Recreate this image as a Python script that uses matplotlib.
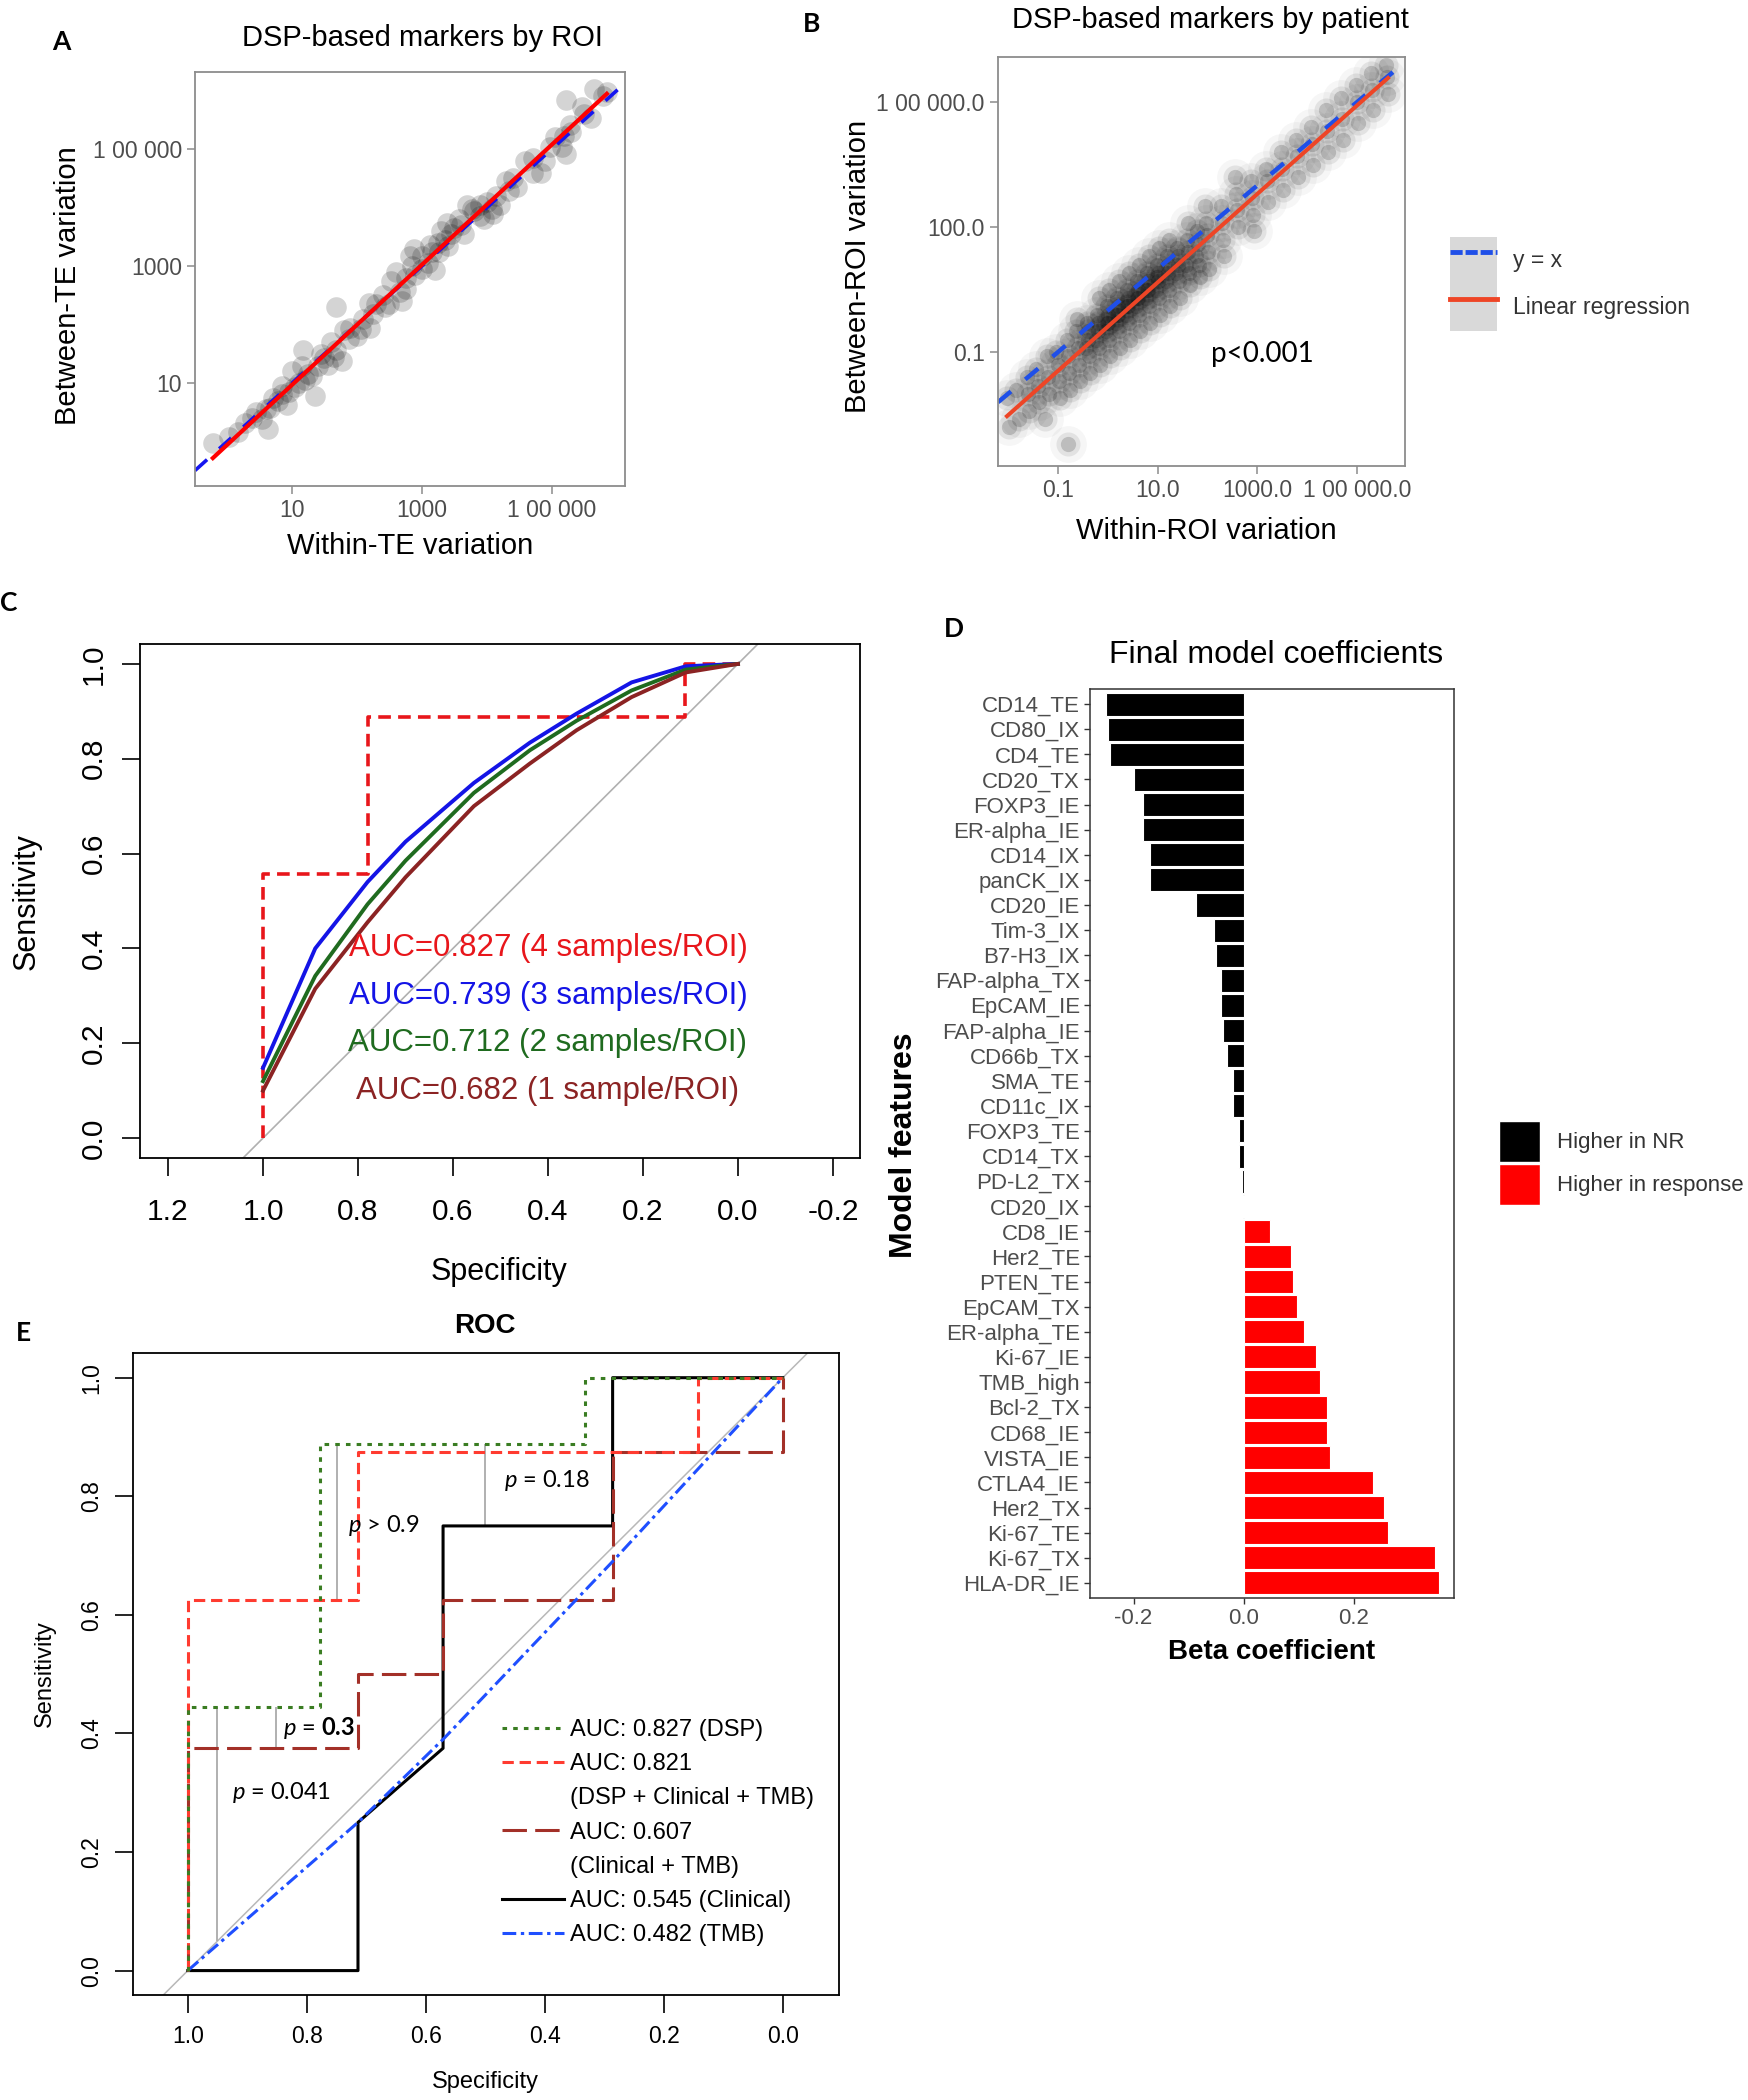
import matplotlib
matplotlib.use("Agg")
import matplotlib.pyplot as plt
from matplotlib.lines import Line2D
from matplotlib.patches import Patch
from matplotlib.legend_handler import HandlerTuple
import numpy as np

plt.rcParams['font.family'] = ['Liberation Sans', 'DejaVu Sans']
plt.rcParams['mathtext.fontset'] = 'custom'
plt.rcParams['mathtext.rm'] = 'Lato'
plt.rcParams['mathtext.it'] = 'Lato:italic'
plt.rcParams['mathtext.bf'] = 'Lato:bold'

# ---------------- A: DSP-based markers by ROI (log10 of the variations)
roi_within_log = [
    -0.22, 0.03, 0.16, 0.28, 0.38, 0.54, 0.63, 0.66, 0.79, 0.85,
    0.92, 1.04, 1.17, 1.20, 1.36, 1.30, 1.49, 1.55, 1.68, 1.68,
    1.77, 1.87, 2.06, 2.18, 2.25, 2.44, 2.53, 2.66, 2.75, 2.82,
    2.88, 3.01, 3.13, 3.26, 3.20, 3.39, 3.45, 3.58, 3.70, 3.77,
    3.89, 3.96, 4.08, 4.21, 4.34, 4.46, 4.59, 4.72, 4.84, 4.72,
    4.97, 5.16, 5.22, 5.19, 5.28, 5.22, 5.47, 5.60, 5.66, 5.79,
    5.85, 0.45, 0.70, 1.10, 1.40, 1.60, 1.90, 2.30, 2.60, 2.90,
    3.10, 3.35, 3.60, 3.90, 4.15, 4.40, 1.00, 2.00, 2.70, 3.30,
    1.25, 1.45, 1.65, 1.80, 2.10, 2.20, 2.40, 2.50, 2.75, 2.85,
    3.00, 3.15, 3.25, 3.40, 3.50, 3.65, 3.80, 4.00, 4.10, 4.30,
    0.60, 0.85, 0.95, 1.15, 5.05, 5.30, 5.50, 4.90]
roi_between_log = [
    -0.02, 0.07, 0.16, 0.32, 0.41, 0.38, 0.22, 0.57, 0.69, 0.81,
    0.63, 0.94, 1.56, 1.06, 0.78, 1.12, 1.43, 1.31, 1.56, 2.30,
    1.37, 1.75, 1.93, 2.37, 2.18, 2.30, 2.74, 2.55, 2.61, 3.17,
    3.30, 3.17, 3.36, 3.24, 2.93, 3.73, 3.55, 3.80, 4.04, 3.98,
    4.04, 3.80, 3.98, 4.04, 4.29, 4.35, 4.79, 4.60, 4.60, 4.85,
    5.04, 5.04, 4.91, 5.22, 5.41, 5.84, 5.72, 5.53, 6.03, 5.91,
    5.97, 0.50, 0.75, 1.00, 1.30, 1.70, 1.95, 2.35, 2.90, 2.85,
    3.05, 3.45, 3.70, 3.85, 4.20, 4.50, 1.20, 1.80, 2.40, 3.60,
    1.15, 1.50, 1.45, 1.90, 2.10, 1.95, 2.50, 2.35, 2.80, 3.00,
    2.95, 3.25, 3.40, 3.35, 3.65, 3.55, 3.95, 4.10, 3.90, 4.45,
    0.55, 0.95, 0.85, 1.30, 5.20, 5.30, 5.60, 4.80]
roi_ticks = [10, 1000, 100000]
roi_ticklabels = ['10', '1000', '1 00 000']

# ---------------- B: DSP-based markers by patient (log10 of the variations)
pat_within_log = [
    -2.02, -1.97, -1.83, -1.78, -1.62, -1.58, -1.60, -1.43, -1.37, -1.40,
    -1.22, -1.18, -1.20, -1.25, -1.03, -0.98, -1.00, -0.96,
    -0.82, -0.78, -0.80, -0.76, -0.80, -0.63, -0.58, -0.60, -0.56, -0.62,
    -0.42, -0.38, -0.40, -0.36, -0.44, -0.40,
    -0.22, -0.18, -0.20, -0.16, -0.24, -0.20, -0.18,
    -0.02, 0.02, 0.00, 0.04, -0.04, 0.00, 0.02, -0.01,
    0.18, 0.22, 0.20, 0.24, 0.16, 0.20, 0.22, 0.19,
    0.38, 0.42, 0.40, 0.44, 0.36, 0.40, 0.42, 0.39,
    0.58, 0.62, 0.60, 0.64, 0.56, 0.60, 0.62, 0.59,
    0.78, 0.82, 0.80, 0.84, 0.76, 0.80, 0.82, 0.79,
    0.98, 1.02, 1.00, 1.04, 0.96, 1.00, 1.02, 0.99,
    1.18, 1.22, 1.20, 1.24, 1.16, 1.20, 1.22,
    1.38, 1.42, 1.40, 1.44, 1.36, 1.40,
    1.58, 1.62, 1.60, 1.64, 1.56, 1.60,
    1.78, 1.82, 1.80, 1.84, 1.76,
    1.98, 2.02, 2.00, 2.04, 1.96,
    2.28, 2.32, 2.30, 2.34,
    2.58, 2.62, 2.60, 2.56,
    2.88, 2.92, 2.90, 2.94,
    3.18, 3.22, 3.20, 3.48, 3.52, 3.50, 3.78, 3.82, 3.80,
    4.08, 4.12, 4.10, 4.38, 4.42, 4.40, 4.68, 4.72, 4.70,
    4.98, 5.02, 5.00, 5.28, 5.32, 5.30, 5.58, 5.62, 5.60]
pat_between_log = [
    -2.1, -2.8, -1.9, -2.6, -1.6, -2.4, -2.0, -1.4, -2.2, -1.8,
    -1.1, -2.0, -1.6, -2.6, -1.0, -1.7, -1.3, -2.1,
    -0.7, -1.5, -1.1, -1.9, -3.2, -0.5, -1.3, -0.9, -1.7, -0.2,
    -0.3, -1.1, -0.7, -1.5, -0.9, -0.5,
    -0.1, -0.9, -0.5, -1.3, -0.7, -0.3, 0.3,
    0.1, -0.7, -0.3, -1.1, -0.5, -0.1, 0.5, -0.3,
    0.3, -0.5, -0.1, -0.9, -0.3, 0.1, 0.7, -0.1,
    0.5, -0.3, 0.1, -0.7, -0.1, 0.3, 0.9, 0.1,
    0.7, -0.1, 0.3, -0.5, 0.1, 0.5, 1.1, 0.3,
    0.9, 0.1, 0.5, -0.3, 0.3, 0.7, 1.3, 0.5,
    1.1, 0.3, 0.7, -0.1, 0.5, 0.9, 1.5, 0.8,
    1.3, 0.5, 0.9, 0.1, 0.7, 1.1, 1.7,
    1.5, 0.7, 1.1, 0.3, 0.9, 1.3,
    1.7, 0.9, 1.4, 0.6, 1.1, 2.1,
    1.9, 1.1, 1.6, 0.8, 1.3,
    2.1, 1.4, 1.8, 1.0, 2.5,
    2.5, 1.7, 2.1, 1.3,
    2.8, 2.0, 2.4, 3.2,
    3.1, 2.3, 2.7, 1.9,
    3.4, 2.6, 3.1, 3.8, 2.9, 3.4, 4.1, 3.2, 3.7,
    4.4, 3.5, 4.0, 4.8, 3.8, 4.3, 5.1, 4.1, 4.6,
    5.4, 4.5, 5.0, 5.7, 4.8, 5.3, 5.9, 5.2, 5.6]
pat_xticks = [0.1, 10, 1000, 100000]
pat_xticklabels = ['0.1', '10.0', '1000.0', '1 00 000.0']
pat_yticks = [0.1, 100, 100000]
pat_yticklabels = ['0.1', '100.0', '1 00 000.0']

# ---------------- C: ROC by number of samples per ROI
roi4_spec = [1.0, 1.0, 0.778, 0.778, 0.111, 0.111, 0.0]
roi4_sens = [0.0, 0.556, 0.556, 0.889, 0.889, 1.0, 1.0]
smooth_spec = [1.0, 0.89, 0.78, 0.70, 0.556, 0.438, 0.34, 0.224, 0.11, 0.0]
roi3_sens = [0.148, 0.40, 0.54, 0.625, 0.749, 0.834, 0.895, 0.961, 0.995, 1.0]
roi2_sens = [0.12, 0.342, 0.493, 0.585, 0.728, 0.818, 0.88, 0.944, 0.988, 1.0]
roi1_sens = [0.10, 0.315, 0.455, 0.55, 0.70, 0.79, 0.86, 0.93, 0.982, 1.0]
roi_auc_labels = ['AUC=0.827 (4 samples/ROI)', 'AUC=0.739 (3 samples/ROI)',
                  'AUC=0.712 (2 samples/ROI)', 'AUC=0.682 (1 sample/ROI)']
c_xticks = [1.2, 1.0, 0.8, 0.6, 0.4, 0.2, 0.0, -0.2]
c_xticklabels = ['1.2', '1.0', '0.8', '0.6', '0.4', '0.2', '0.0', '-0.2']
c_yticks = [0.0, 0.2, 0.4, 0.6, 0.8, 1.0]
c_yticklabels = ['0.0', '0.2', '0.4', '0.6', '0.8', '1.0']

# ---------------- D: final model coefficients
features = ['CD14_TE', 'CD80_IX', 'CD4_TE', 'CD20_TX', 'FOXP3_IE', 'ER-alpha_IE',
            'CD14_IX', 'panCK_IX', 'CD20_IE', 'Tim-3_IX', 'B7-H3_IX', 'FAP-alpha_TX',
            'EpCAM_IE', 'FAP-alpha_IE', 'CD66b_TX', 'SMA_TE', 'CD11c_IX', 'FOXP3_TE',
            'CD14_TX', 'PD-L2_TX', 'CD20_IX', 'CD8_IE', 'Her2_TE', 'PTEN_TE',
            'EpCAM_TX', 'ER-alpha_TE', 'Ki-67_IE', 'TMB_high', 'Bcl-2_TX', 'CD68_IE',
            'VISTA_IE', 'CTLA4_IE', 'Her2_TX', 'Ki-67_TE', 'Ki-67_TX', 'HLA-DR_IE']
beta = [-0.250, -0.247, -0.242, -0.200, -0.182, -0.182,
        -0.171, -0.171, -0.087, -0.054, -0.051, -0.042,
        -0.042, -0.038, -0.031, -0.019, -0.019, -0.009,
        -0.009, -0.003, -0.002, 0.047, 0.086, 0.090,
        0.096, 0.110, 0.132, 0.139, 0.152, 0.152,
        0.156, 0.234, 0.254, 0.262, 0.347, 0.354]
d_xticks = [-0.2, 0.0, 0.2]
d_xticklabels = ['-0.2', '0.0', '0.2']

# ---------------- E: ROC of the models
dsp_spec = [1.0, 1.0, 0.778, 0.778, 0.333, 0.333, 0.0]
dsp_sens = [0.0, 0.444, 0.444, 0.889, 0.889, 1.0, 1.0]
full_spec = [1.0, 1.0, 0.714, 0.714, 0.143, 0.143, 0.0]
full_sens = [0.0, 0.625, 0.625, 0.875, 0.875, 1.0, 1.0]
clintmb_spec = [1.0, 1.0, 0.714, 0.714, 0.571, 0.571, 0.286, 0.286, 0.0, 0.0]
clintmb_sens = [0.0, 0.375, 0.375, 0.5, 0.5, 0.625, 0.625, 0.875, 0.875, 1.0]
clin_spec = [1.0, 0.714, 0.714, 0.571, 0.571, 0.286, 0.286, 0.0]
clin_sens = [0.0, 0.0, 0.25, 0.375, 0.75, 0.75, 1.0, 1.0]
tmb_spec = [1.0, 0.714, 0.571, 0.286, 0.125, 0.0]
tmb_sens = [0.0, 0.25, 0.39, 0.69, 0.865, 1.0]
pval_spec = [0.951, 0.851, 0.75, 0.5]
pval_low = [0.05, 0.375, 0.625, 0.75]
pval_high = [0.444, 0.444, 0.889, 0.889]
pval_labels = [r'$p$ = 0.041', r'$p$ = $\mathbf{0.3}$', r'$p$ > 0.9', r'$p$ = 0.18']
pval_pos = [(0.843, 0.301), (0.78, 0.409), (0.67, 0.751), (0.396, 0.827)]
e_legend = ['AUC: 0.827 (DSP)', 'AUC: 0.821', '(DSP + Clinical + TMB)', 'AUC: 0.607',
            '(Clinical + TMB)', 'AUC: 0.545 (Clinical)', 'AUC: 0.482 (TMB)']
e_ticks = [1.0, 0.8, 0.6, 0.4, 0.2, 0.0]
e_ticklabels = ['1.0', '0.8', '0.6', '0.4', '0.2', '0.0']

W, H = 1748, 2100
fig = plt.figure(figsize=(W / 100, H / 100), dpi=100)


def add_ax(l, t, r, b):
    # box in pixels measured from the top left corner
    return fig.add_axes([l / W, 1 - b / H, (r - l) / W, (b - t) / H])


def label(x, y, s, **kw):
    kw.setdefault('ha', 'center')
    kw.setdefault('va', 'center')
    fig.text(x / W, 1 - y / H, s, **kw)


GREY_TXT = '#4d4d4d'
GREY_FRAME = '#8c8c8c'


def gg_frame(ax, frame=GREY_FRAME, size=16.5):
    for sp in ax.spines.values():
        sp.set_color(frame)
        sp.set_linewidth(1.3)
    ax.tick_params(color=frame, labelcolor=GREY_TXT, length=5.5, width=1.1,
                   labelsize=size, pad=4)
    ax.minorticks_off()


def r_frame(ax, size, xpad, ypad):
    for sp in ax.spines.values():
        sp.set_color('black')
        sp.set_linewidth(1.3)
    ax.tick_params(length=13, width=1.2, labelsize=size)
    ax.tick_params(axis='x', pad=xpad)
    ax.tick_params(axis='y', pad=ypad, labelrotation=90)
    for lab in ax.get_yticklabels():
        lab.set_va('center')


def log_panel(ax, xlog, ylog, layers, blue, red, dashes, blue_lw, red_lw):
    ax.set_xscale('log')
    ax.set_yscale('log')
    # several soft layers of the same points give the blurred look
    for size, alpha in layers:
        ax.scatter(10 ** np.array(xlog), 10 ** np.array(ylog), s=size, color='black',
                   alpha=alpha, linewidths=0, zorder=1)
    ax.axline((1, 1), (10, 10), color=blue, lw=blue_lw, dashes=dashes, zorder=2)
    slope, icpt = np.polyfit(xlog, ylog, 1)
    xfit = np.array([min(xlog), max(xlog)])
    ax.plot(10 ** xfit, 10 ** (slope * xfit + icpt), color=red, lw=red_lw, zorder=3)


# ---- A
axA = add_ax(195, 72, 625, 486)
log_panel(axA, roi_within_log, roi_between_log, [(220, 0.17)], '#1515f0', '#ff0000',
          (4.5, 4.5), 2.6, 3.0)
axA.set_xlim(10 ** -0.495, 10 ** 6.13)
axA.set_ylim(10 ** -0.76, 10 ** 6.32)
axA.set_xticks(roi_ticks, roi_ticklabels)
axA.set_yticks(roi_ticks, roi_ticklabels)
gg_frame(axA)
label(61, 42, 'A', fontsize=19, fontweight='bold', family='Lato')
label(422, 38, 'DSP-based markers by ROI', fontsize=21)
label(410, 546, 'Within-TE variation', fontsize=21)
label(68, 286, 'Between-TE variation', fontsize=21, rotation=90)

# ---- B
axB = add_ax(998, 57, 1405, 466)
blueB, redB = '#1f4fe8', '#ee4526'
log_panel(axB, pat_within_log, pat_between_log, [(700, 0.035), (300, 0.08), (120, 0.16)],
          blueB, redB, (3.8, 4.2), 3.2, 2.9)
axB.set_xlim(10 ** -2.2, 10 ** 5.96)
axB.set_ylim(10 ** -3.73, 10 ** 6.08)
axB.set_xticks(pat_xticks, pat_xticklabels)
axB.set_yticks(pat_yticks, pat_yticklabels)
gg_frame(axB)
axB.text(10 ** 3.1, 10 ** -1.04, 'p<0.001', fontsize=20, family='Lato',
         ha='center', va='center')
key_bg = '#d9d9d9'
hB = [(Patch(facecolor=key_bg, edgecolor='none'), Line2D([], [], color=blueB, lw=3.5, dashes=(2.5, 0.6))),
      (Patch(facecolor=key_bg, edgecolor='none'), Line2D([], [], color=redB, lw=3.5))]
axB.legend(hB, ['y = x', 'Linear regression'],
           handler_map={tuple: HandlerTuple(ndivide=1, pad=0)},
           loc='upper left', bbox_to_anchor=(1450 / W, 1 - 237 / H),
           bbox_transform=fig.transFigure, frameon=False, fontsize=16.5,
           handlelength=2.05, handleheight=2.78, labelspacing=0, handletextpad=0.7,
           borderpad=0, borderaxespad=0, labelcolor='#333333')
label(812, 24, 'B', fontsize=19, fontweight='bold', family='Lato')
label(1210, 20, 'DSP-based markers by patient', fontsize=21)
label(1206, 531, 'Within-ROI variation', fontsize=21)
label(858, 266, 'Between-ROI variation', fontsize=21, rotation=90)

# ---- C
axC = add_ax(140, 644, 860, 1158)
axC.axline((1, 0), (0, 1), color='#b0b0b0', lw=1.2)
axC.plot(roi4_spec, roi4_sens, color='#e8161b', lw=2.6, dashes=(3.5, 2))
c_colors = ['#e8161b', '#1414e6', '#1f6b1f', '#8b2323']
for sens, col in zip([roi3_sens, roi2_sens, roi1_sens], c_colors[1:]):
    axC.plot(smooth_spec, sens, color=col, lw=2.8)
for i, (txt, col) in enumerate(zip(roi_auc_labels, c_colors)):
    axC.text(0.4, 0.4 - 0.1 * i, txt, color=col, fontsize=22.5, ha='center', va='center')
axC.set_xlim(1.259, -0.257)
axC.set_ylim(-0.042, 1.042)
axC.set_xticks(c_xticks, c_xticklabels)
axC.set_yticks(c_yticks, c_yticklabels)
r_frame(axC, 21.5, 16, 10)
label(9, 603, 'C', fontsize=19, fontweight='bold', family='Lato')
label(499, 1272, 'Specificity', fontsize=22)
label(27, 902, 'Sensitivity', fontsize=22, rotation=90)

# ---- D
axD = add_ax(1089.5, 689, 1453.6, 1598)
ypos = np.arange(len(features))
bar_colors = ['black' if v < 0 else '#ff0000' for v in beta]
axD.barh(ypos, beta, height=0.92, color=bar_colors, edgecolor='white', linewidth=0.8)
axD.set_ylim(len(features) - 0.4, -0.6)
axD.set_xlim(-0.28, 0.381)
axD.set_yticks(ypos, features)
axD.set_xticks(d_xticks, d_xticklabels)
for sp in axD.spines.values():
    sp.set_color('#333333')
    sp.set_linewidth(1.1)
axD.tick_params(color='#333333', labelcolor=GREY_TXT, length=4, width=1.0,
                labelsize=16, pad=3)
axD.legend([Patch(facecolor='black', edgecolor='white'), Patch(facecolor='#ff0000', edgecolor='white')],
           ['Higher in NR', 'Higher in response'], loc='upper left',
           bbox_to_anchor=(1499 / W, 1 - 1121 / H), bbox_transform=fig.transFigure,
           frameon=False, fontsize=16, handlelength=1.85, handleheight=2.46,
           labelspacing=0.09, handletextpad=0.75, borderpad=0, borderaxespad=0,
           labelcolor='#333333')
label(954, 629, 'D', fontsize=19, fontweight='bold', family='Lato')
label(1276, 655, 'Final model coefficients', fontsize=23)
label(1272, 1652, 'Beta coefficient', fontsize=20, fontweight='bold')
label(904, 1145, 'Model features', fontsize=23, fontweight='bold', rotation=90)

# ---- E
axE = add_ax(132.5, 1352.8, 838.7, 1994.9)
green, red, dred, blue = '#3a7d22', '#ff3b30', '#a33028', '#1f4fff'
axE.axline((1, 0), (0, 1), color='#b8b8b8', lw=1.1)
axE.vlines(pval_spec, pval_low, pval_high, color='#aaaaaa', lw=1.3)
axE.plot(clin_spec, clin_sens, color='black', lw=2.2)
axE.plot(clintmb_spec, clintmb_sens, color=dred, lw=2.2, dashes=(8, 2.7))
axE.plot(tmb_spec, tmb_sens, color=blue, lw=2.2, dashes=(4.5, 1.5, 1.1, 1.5))
axE.plot(full_spec, full_sens, color=red, lw=2.2, dashes=(3.7, 1.9))
axE.plot(dsp_spec, dsp_sens, color=green, lw=2.2, dashes=(1.5, 2))
for txt, (px, py) in zip(pval_labels, pval_pos):
    axE.text(px, py, txt, fontsize=17, family='Lato', ha='center', va='center')
hE = [Line2D([], [], color=green, lw=2.2, dashes=(1.5, 2)),
      Line2D([], [], color=red, lw=2.2, dashes=(3.7, 1.9)),
      Line2D([], [], color='none'),
      Line2D([], [], color=dred, lw=2.2, dashes=(8, 2.7)),
      Line2D([], [], color='none'),
      Line2D([], [], color='black', lw=2.2),
      Line2D([], [], color=blue, lw=2.2, dashes=(4.5, 1.5, 1.1, 1.5))]
axE.legend(hE, e_legend, loc='upper left', bbox_to_anchor=(0.523, 0.43),
           frameon=False, fontsize=17, handlelength=2.62, handletextpad=0.25,
           labelspacing=0.52, borderpad=0, borderaxespad=0)
axE.set_xlim(1.093, -0.094)
axE.set_ylim(-0.041, 1.042)
axE.set_xticks(e_ticks, e_ticklabels)
axE.set_yticks(e_ticks[::-1], e_ticklabels[::-1])
r_frame(axE, 16.5, 9, 8)
label(23, 1333, 'E', fontsize=19, fontweight='bold', family='Lato')
label(485, 1326, 'ROC', fontsize=20, fontweight='bold')
label(485, 2082, 'Specificity', fontsize=17)
label(45, 1674, 'Sensitivity', fontsize=17, rotation=90)

fig.savefig('out.png', dpi=100)
